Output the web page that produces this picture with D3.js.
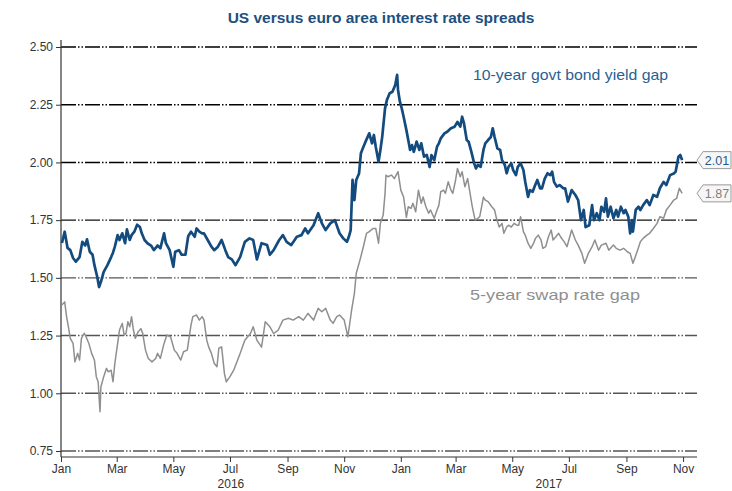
<!DOCTYPE html>
<html><head><meta charset="utf-8">
<script src="https://cdn.jsdelivr.net/npm/d3@7"></script>
<style>body{margin:0;background:#fff;} svg{display:block;font-family:"Liberation Sans",Arial,sans-serif;}</style>
</head><body><svg id="c" width="732" height="491"></svg>
<script>
const chartTitle = "US versus euro area interest rate spreads";
const yTicks = [0.75, 1.00, 1.25, 1.50, 1.75, 2.00, 2.25, 2.50];
const years = ["2016", "2017"];
const seriesNames = ["10-year govt bond yield gap", "5-year swap rate gap"];
const lastLabels = ["2.01", "1.87"];
const startDate = "2016-01-01";
// [days since 1 Jan 2016, spread in percentage points]
const bondGap = [[1,1.651],[4,1.70],[7,1.63],[10,1.62],[13,1.586],[16,1.57],[20,1.59],[23,1.656],[26,1.64],[28,1.667],[31,1.613],[34,1.60],[36,1.555],[39,1.505],[41,1.46],[43,1.483],[46,1.526],[50,1.555],[54,1.59],[56,1.609],[58,1.635],[61,1.685],[63,1.664],[66,1.693],[69,1.65],[71,1.71],[74,1.664],[76,1.685],[79,1.70],[82,1.73],[85,1.72],[87,1.693],[90,1.664],[93,1.65],[97,1.64],[100,1.62],[104,1.64],[107,1.628],[111,1.693],[113,1.65],[117,1.62],[121,1.548],[123,1.613],[127,1.62],[130,1.60],[134,1.60],[137,1.68],[140,1.70],[144,1.678],[146,1.714],[149,1.70],[152,1.693],[154,1.693],[158,1.664],[162,1.635],[165,1.62],[169,1.635],[173,1.664],[177,1.62],[180,1.59],[184,1.58],[188,1.555],[193,1.591],[198,1.656],[203,1.671],[207,1.664],[211,1.58],[216,1.65],[222,1.642],[225,1.60],[229,1.62],[235,1.664],[239,1.685],[243,1.656],[248,1.642],[254,1.678],[259,1.685],[263,1.714],[266,1.693],[272,1.728],[277,1.78],[281,1.736],[285,1.707],[290,1.736],[295,1.75],[300,1.693],[304,1.671],[308,1.656],[310,1.678],[312,1.707],[314,1.924],[316,1.837],[318,1.924],[321,1.952],[323,2.04],[325,2.06],[328,2.09],[332,2.126],[335,2.083],[337,2.119],[339,2.068],[342,2.003],[344,2.054],[346,2.112],[349,2.234],[351,2.27],[354,2.30],[357,2.306],[360,2.335],[362,2.379],[363,2.314],[365,2.263],[367,2.234],[369,2.198],[372,2.14],[374,2.097],[376,2.054],[378,2.075],[380,2.046],[383,2.09],[386,2.054],[388,2.083],[391,2.025],[394,2.032],[397,1.98],[399,2.032],[402,2.01],[405,2.068],[407,2.083],[409,2.104],[413,2.126],[416,2.133],[420,2.148],[424,2.155],[427,2.176],[430,2.155],[432,2.198],[434,2.17],[437,2.097],[439,2.09],[442,2.046],[445,1.996],[447,1.974],[449,1.989],[452,1.981],[455,2.054],[457,2.083],[460,2.097],[463,2.11],[465,2.148],[467,2.11],[470,2.061],[473,2.054],[475,2.01],[478,1.989],[480,1.953],[482,1.981],[485,1.996],[487,1.967],[490,1.945],[492,1.981],[495,1.996],[498,1.967],[500,1.916],[503,1.851],[505,1.88],[508,1.873],[510,1.895],[513,1.924],[516,1.888],[518,1.888],[521,1.93],[524,1.953],[527,1.945],[529,1.96],[531,1.916],[534,1.895],[537,1.902],[541,1.888],[543,1.888],[546,1.83],[550,1.88],[554,1.859],[557,1.837],[560,1.75],[563,1.794],[565,1.72],[569,1.728],[572,1.815],[574,1.75],[577,1.78],[580,1.75],[582,1.808],[585,1.786],[587,1.844],[589,1.765],[592,1.808],[595,1.758],[598,1.794],[600,1.765],[603,1.808],[606,1.78],[608,1.794],[611,1.765],[613,1.693],[615,1.75],[616,1.70],[619,1.794],[622,1.808],[624,1.794],[627,1.815],[631,1.837],[634,1.815],[638,1.859],[642,1.851],[645,1.888],[649,1.916],[652,1.902],[656,1.945],[660,1.952],[662,1.96],[665,2.025],[667,2.032],[669,2.01]];
const swapGap = [[1,1.382],[4,1.396],[6,1.332],[8,1.288],[10,1.238],[13,1.216],[15,1.136],[18,1.173],[20,1.144],[22,1.238],[25,1.26],[27,1.245],[30,1.216],[33,1.173],[36,1.144],[38,1.072],[40,1.05],[42,0.92],[43,1.028],[46,1.072],[49,1.108],[51,1.093],[54,1.10],[56,1.05],[58,1.13],[61,1.216],[63,1.274],[66,1.303],[68,1.252],[70,1.26],[72,1.31],[74,1.288],[76,1.332],[78,1.274],[80,1.238],[83,1.266],[86,1.28],[88,1.26],[91,1.187],[94,1.151],[98,1.136],[102,1.151],[104,1.173],[107,1.151],[111,1.216],[114,1.252],[118,1.245],[122,1.187],[125,1.173],[129,1.144],[132,1.18],[136,1.187],[140,1.295],[142,1.332],[146,1.339],[149,1.317],[152,1.332],[154,1.317],[157,1.23],[159,1.201],[162,1.173],[165,1.13],[168,1.115],[170,1.195],[173,1.201],[176,1.086],[178,1.05],[182,1.072],[186,1.10],[193,1.173],[198,1.23],[204,1.259],[207,1.288],[211,1.23],[216,1.20],[220,1.31],[225,1.288],[229,1.259],[234,1.274],[239,1.317],[245,1.325],[250,1.317],[256,1.332],[261,1.317],[266,1.346],[272,1.317],[277,1.368],[281,1.353],[285,1.368],[290,1.317],[293,1.303],[297,1.332],[300,1.339],[305,1.317],[309,1.245],[313,1.36],[316,1.433],[318,1.52],[322,1.577],[326,1.64],[329,1.693],[332,1.70],[336,1.714],[339,1.714],[342,1.65],[344,1.736],[347,1.772],[349,1.866],[350,1.945],[352,1.938],[356,1.945],[359,1.93],[361,1.945],[363,1.96],[366,1.88],[369,1.85],[372,1.762],[374,1.808],[377,1.801],[379,1.823],[382,1.786],[385,1.88],[388,1.823],[390,1.85],[393,1.808],[396,1.78],[398,1.794],[402,1.758],[405,1.794],[407,1.815],[409,1.873],[412,1.88],[414,1.866],[417,1.916],[420,1.88],[422,1.866],[425,1.924],[427,1.974],[430,1.938],[432,1.96],[435,1.895],[438,1.93],[440,1.88],[443,1.808],[446,1.75],[449,1.758],[451,1.765],[455,1.85],[457,1.837],[460,1.83],[464,1.808],[467,1.794],[469,1.758],[472,1.72],[475,1.736],[477,1.693],[480,1.72],[482,1.728],[485,1.72],[488,1.736],[491,1.728],[493,1.728],[495,1.765],[498,1.70],[500,1.685],[503,1.65],[506,1.628],[509,1.65],[511,1.671],[514,1.685],[517,1.664],[519,1.628],[522,1.635],[525,1.678],[528,1.707],[530,1.664],[533,1.678],[536,1.693],[538,1.678],[542,1.656],[545,1.635],[550,1.707],[554,1.664],[557,1.642],[561,1.606],[564,1.563],[568,1.606],[572,1.635],[575,1.664],[579,1.62],[582,1.642],[587,1.65],[590,1.62],[595,1.642],[598,1.628],[602,1.62],[606,1.628],[610,1.613],[613,1.606],[616,1.563],[618,1.585],[621,1.62],[624,1.656],[627,1.671],[631,1.685],[634,1.693],[638,1.714],[642,1.736],[645,1.765],[649,1.758],[652,1.794],[656,1.815],[660,1.837],[663,1.844],[666,1.888],[669,1.866]];

(function () {
const blue = "#134b7e", grey = "#8f8f8f";
const svg = d3.select("#c");
const start = d3.timeParse("%Y-%m-%d")(startDate);
const toDate = d => d3.timeDay.offset(start, d);
const plotL = 61, plotR = 697, plotT = 47, plotB = 451, axisY = 457;
const x = d3.scaleTime().domain([start, new Date(2017, 10, 16)]).range([plotL, plotR]);
const y = d3.scaleLinear().domain([0.75, 2.5]).range([plotB, plotT]);

// title
svg.append("text").attr("x", 381).attr("y", 23).attr("text-anchor", "middle")
  .attr("font-size", 15.5).attr("font-weight", "bold").attr("fill", "#1d4f80").text(chartTitle);

// gridlines
const gridStyle = v => v >= 2 ? {c: "#000", w: 1.6} : (v >= 1.75 ? {c: "#111", w: 1.1} : {c: "#555", w: 1.4});
svg.append("g").selectAll("line").data(yTicks).join("line")
  .attr("x1", plotL).attr("x2", plotR)
  .attr("y1", d => y(d)).attr("y2", d => y(d))
  .attr("stroke", d => gridStyle(d).c).attr("stroke-width", d => gridStyle(d).w)
  .attr("stroke-dasharray", "15,2,1.5,2,1.5,2");

// y axis
const yAxis = d3.axisLeft(y).tickValues(yTicks).tickFormat(d3.format(".2f")).tickSize(5).tickPadding(3);
const gy = svg.append("g").attr("transform", `translate(${plotL},0)`).call(yAxis);
gy.select(".domain").remove();
gy.selectAll(".tick line").attr("stroke", "#333");
gy.selectAll("text").attr("font-size", 12).attr("fill", "#333").attr("font-family", "Liberation Sans, Arial, sans-serif");
svg.append("line").attr("x1", plotL).attr("x2", plotL).attr("y1", 40).attr("y2", axisY).attr("stroke", "#333").attr("stroke-width", 1.2);

// x axis
const xTicks = d3.timeMonth.range(start, new Date(2017, 10, 2), 2);
const xAxis = d3.axisBottom(x).tickValues(xTicks).tickFormat(d3.timeFormat("%b")).tickSize(5).tickPadding(2);
const gx = svg.append("g").attr("transform", `translate(0,${axisY})`).call(xAxis);
gx.select(".domain").remove();
gx.selectAll(".tick line").attr("stroke", "#333");
gx.selectAll("text").attr("font-size", 12).attr("fill", "#333").attr("font-family", "Liberation Sans, Arial, sans-serif");
svg.append("line").attr("x1", plotL).attr("x2", plotR).attr("y1", axisY).attr("y2", axisY).attr("stroke", "#333").attr("stroke-width", 1.2);

// year labels
const yearSpans = [[start, new Date(2017, 0, 1)], [new Date(2017, 0, 1), x.domain()[1]]];
svg.append("g").selectAll("text").data(years).join("text")
  .attr("x", (d, i) => (x(yearSpans[i][0]) + x(yearSpans[i][1])) / 2)
  .attr("y", 488).attr("text-anchor", "middle").attr("font-size", 12).attr("fill", "#333").text(d => d);

// lines
const line = d3.line().x(d => x(toDate(d[0]))).y(d => y(d[1]));
svg.append("path").datum(swapGap).attr("d", line).attr("fill", "none")
  .attr("stroke", grey).attr("stroke-width", 1.5).attr("stroke-linejoin", "round");
svg.append("path").datum(bondGap).attr("d", line).attr("fill", "none")
  .attr("stroke", blue).attr("stroke-width", 2.7).attr("stroke-linejoin", "round");

// series labels
svg.append("text").attr("x", 473).attr("y", 80).attr("font-size", 14.5).attr("fill", "#2a5f92")
  .attr("textLength", 195).attr("lengthAdjust", "spacingAndGlyphs").text(seriesNames[0]);
svg.append("text").attr("x", 470).attr("y", 300).attr("font-size", 14.5).attr("fill", "#8f8f8f")
  .attr("textLength", 170).attr("lengthAdjust", "spacingAndGlyphs").text(seriesNames[1]);

// end value tags
const lastVals = [bondGap[bondGap.length - 1][1], swapGap[swapGap.length - 1][1]];
const tagColors = ["#1d5a92", "#7f7f7f"];
lastVals.forEach((v, i) => {
  const yc = y(v), x0 = 697, h = 8.5;
  const g = svg.append("g");
  g.append("path").attr("d", `M${x0},${yc} L${x0 + 6},${yc - h} L${x0 + 34},${yc - h} L${x0 + 34},${yc + h} L${x0 + 6},${yc + h} Z`)
    .attr("fill", "#f6f6f6").attr("stroke", "#9a9a9a").attr("stroke-width", 1);
  g.append("text").attr("x", x0 + 20).attr("y", yc + 4.5).attr("text-anchor", "middle")
    .attr("font-size", 12.5).attr("fill", tagColors[i]).text(lastLabels[i]);
});
})();
</script></body></html>
